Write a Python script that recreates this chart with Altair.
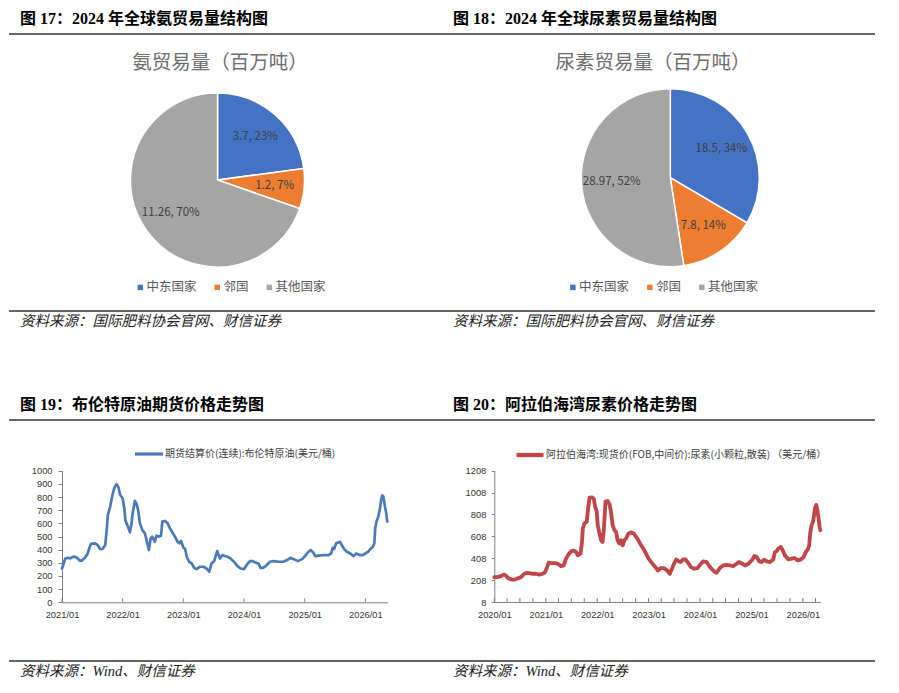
import altair as alt
import pandas as pd

# ---------------- data ----------------
pie_categories = ["中东国家", "邻国", "其他国家"]
pie_colors = ["#4472C4", "#ED7D31", "#A5A5A5"]
ammonia_values = [3.7, 1.2, 11.26]
ammonia_pct = [23, 7, 70]
urea_trade_values = [18.5, 7.8, 28.97]
urea_trade_pct = [34, 14, 52]

brent_name = "期货结算价(连续):布伦特原油(美元/桶)"
brent_dates = [
    "2021-01-01", "2021-01-21", "2021-02-06", "2021-02-20", "2021-03-10", "2021-03-30", "2021-04-19", "2021-04-29",
    "2021-05-19", "2021-06-05", "2021-06-15", "2021-06-25", "2021-07-19", "2021-08-04", "2021-08-18", "2021-09-02",
    "2021-09-18", "2021-09-28", "2021-10-04", "2021-10-18", "2021-11-01", "2021-11-13", "2021-11-25", "2021-12-07",
    "2021-12-17", "2022-01-01", "2022-01-11", "2022-01-17", "2022-02-02", "2022-02-14", "2022-02-24", "2022-03-02",
    "2022-03-16", "2022-03-28", "2022-04-05", "2022-04-15", "2022-04-29", "2022-05-15", "2022-05-27", "2022-06-08",
    "2022-06-18", "2022-06-28", "2022-07-14", "2022-07-24", "2022-08-08", "2022-08-20", "2022-08-28", "2022-09-13",
    "2022-09-29", "2022-10-13", "2022-10-27", "2022-11-12", "2022-11-28", "2022-12-08", "2022-12-18", "2023-01-02",
    "2023-01-12", "2023-01-22", "2023-02-05", "2023-02-21", "2023-03-08", "2023-03-22", "2023-04-11", "2023-05-01",
    "2023-05-21", "2023-06-06", "2023-06-20", "2023-07-06", "2023-07-24", "2023-08-10", "2023-08-24", "2023-09-09",
    "2023-09-26", "2023-10-12", "2023-11-02", "2023-11-22", "2023-12-12", "2024-01-01", "2024-01-17", "2024-02-06",
    "2024-02-20", "2024-03-10", "2024-03-30", "2024-04-09", "2024-04-25", "2024-05-13", "2024-06-05", "2024-06-29",
    "2024-07-28", "2024-08-24", "2024-09-17", "2024-10-07", "2024-10-27", "2024-11-20", "2024-12-16", "2025-01-05",
    "2025-01-19", "2025-02-05", "2025-02-21", "2025-03-05", "2025-03-25", "2025-04-24", "2025-05-24", "2025-06-09",
    "2025-06-19", "2025-06-27", "2025-07-09", "2025-07-23", "2025-08-02", "2025-08-12", "2025-08-26", "2025-09-12",
    "2025-10-02", "2025-10-22", "2025-11-07", "2025-11-27", "2025-12-17", "2026-01-01", "2026-01-17", "2026-01-31",
    "2026-02-16", "2026-02-24", "2026-03-01", "2026-03-10", "2026-03-20", "2026-03-30", "2026-04-05", "2026-04-13",
    "2026-04-19", "2026-04-29", "2026-05-05", "2026-05-13",
]
brent_values = [
    257, 333, 338, 333, 348, 341, 316, 316, 338, 371, 415, 445, 448, 435, 405, 405, 435, 562, 664, 728,
    817, 873, 898, 873, 817, 791, 715, 626, 575, 532, 600, 677, 771, 740, 695, 600, 550, 524, 460, 397,
    481, 499, 460, 506, 499, 506, 613, 618, 600, 562, 532, 499, 460, 448, 466, 415, 405, 346, 308, 295,
    262, 252, 270, 270, 257, 232, 295, 313, 389, 333, 359, 351,
    346, 333, 308, 277, 257, 252, 282, 313, 313, 303, 293, 262, 262, 277, 308, 313, 308, 308, 321, 338,
    328, 313, 328, 354, 379, 397, 379, 351, 354, 359, 359, 371, 415, 405, 448, 455, 460, 435, 405, 384,
    371, 351, 371, 359, 359, 371, 384, 405, 422, 448, 562, 618, 651, 715, 771, 812, 804, 728, 689, 613,
]

urea_name = "阿拉伯海湾:现货价(FOB,中间价):尿素(小颗粒,散装) （美元/桶）"
urea_dates = [
    "2020-01-01", "2020-01-24", "2020-02-17", "2020-03-11", "2020-03-23", "2020-04-09", "2020-05-02", "2020-05-26",
    "2020-06-19", "2020-07-08", "2020-08-01", "2020-08-20", "2020-09-06", "2020-09-30", "2020-10-23", "2020-11-16",
    "2020-12-10", "2020-12-27", "2021-01-10", "2021-01-20", "2021-02-08", "2021-03-02", "2021-03-26", "2021-04-19",
    "2021-05-08", "2021-05-24", "2021-06-10", "2021-06-29", "2021-07-18", "2021-08-04", "2021-08-16", "2021-09-04",
    "2021-09-14", "2021-09-21", "2021-10-02", "2021-10-19", "2021-10-26", "2021-11-07", "2021-11-24", "2021-12-08",
    "2021-12-17", "2021-12-29", "2022-01-05", "2022-01-17", "2022-01-29", "2022-02-08", "2022-02-15", "2022-02-22",
    "2022-03-01", "2022-03-16", "2022-03-30", "2022-04-09", "2022-04-21", "2022-05-03", "2022-05-15", "2022-05-26",
    "2022-06-08", "2022-06-19", "2022-07-01", "2022-07-13", "2022-07-25", "2022-08-11", "2022-08-30", "2022-09-18",
    "2022-10-04", "2022-10-21", "2022-11-09", "2022-11-28", "2022-12-14", "2023-01-01", "2023-01-20", "2023-02-08",
    "2023-02-24", "2023-03-09", "2023-03-27", "2023-04-20", "2023-05-14", "2023-06-01", "2023-06-16", "2023-07-01",
    "2023-07-17", "2023-08-03", "2023-08-17", "2023-09-03", "2023-09-20", "2023-10-09", "2023-10-28", "2023-11-21",
    "2023-12-15", "2024-01-01", "2024-01-24", "2024-02-17", "2024-03-04", "2024-03-23", "2024-04-11", "2024-04-28",
    "2024-05-21", "2024-06-14", "2024-07-08", "2024-08-01", "2024-08-24", "2024-09-18", "2024-10-04", "2024-10-28",
    "2024-11-16", "2024-12-10", "2025-01-03", "2025-01-22", "2025-02-08", "2025-02-25", "2025-03-14", "2025-04-02",
    "2025-04-19", "2025-05-12", "2025-06-05", "2025-06-17", "2025-06-29", "2025-07-11", "2025-07-29", "2025-08-11",
    "2025-08-27", "2025-09-21", "2025-10-14", "2025-11-02", "2025-11-26", "2025-12-20", "2026-01-06", "2026-01-22",
    "2026-02-06", "2026-02-15", "2026-02-22", "2026-03-04", "2026-03-16", "2026-03-28", "2026-04-07", "2026-04-14",
    "2026-04-21", "2026-04-30", "2026-05-05",
]
urea_values = [
    235, 235, 244, 259, 250, 226, 213, 213, 226, 235, 266, 275, 272, 266, 266, 259, 266, 281, 327, 367,
    364, 364, 358, 336, 342, 404, 440, 471, 477, 465, 434, 450, 542, 680, 726, 741, 833, 962, 965, 950,
    879, 833, 710, 634, 572, 557, 634, 772, 925, 931, 900, 833, 710, 664, 649, 572, 542, 572, 526, 572,
    588, 634, 643, 634, 603, 572, 526, 489, 450, 404, 373, 342, 318,
    296, 318, 318, 296, 266, 312, 358, 397, 379, 373, 397, 397, 367, 327, 312, 318, 348, 379, 373, 342,
    312, 287, 275, 318, 342, 348, 342, 336, 358, 373, 358, 342, 358, 388, 428, 419, 379, 373, 394, 379,
    373, 397, 465, 471, 496, 511, 480, 434, 397, 404, 410, 388, 397, 419, 465, 489, 526, 634, 710, 747,
    864, 894, 848, 787, 695, 664,
]

brent_label_years = [2021, 2022, 2023, 2024, 2025, 2026]
urea_label_years = [2020, 2021, 2022, 2023, 2024, 2025, 2026]
brent_y_ticks = [0, 100, 200, 300, 400, 500, 600, 700, 800, 900, 1000]
urea_y_ticks = [8, 208, 408, 608, 808, 1008, 1208]

titles = ["图 17：2024 年全球氨贸易量结构图", "图 18：2024 年全球尿素贸易量结构图",
          "图 19：布伦特原油期货价格走势图", "图 20：阿拉伯海湾尿素价格走势图"]
pie_titles = ["氨贸易量（百万吨）", "尿素贸易量（百万吨）"]
sources = ["资料来源：国际肥料协会官网、财信证券", "资料来源：Wind、财信证券"]

# ---------------- styling ----------------
W, H = 883, 677
SANS = "Noto Sans CJK SC"
AXF = "Liberation Sans"
TITLE_FONT = "Liberation Serif, Noto Sans CJK SC"
AXIS_GRAY = "#808080"
LBL = "#333333"


def dt(s):
    y, m, d = (int(p) for p in s.split("-"))
    return alt.DateTime(year=y, month=m, date=d, utc=True)


one = pd.DataFrame({"k": [0]})


def text_layer(txt, x, y, size, font, color, weight="normal", style="normal", align="left"):
    return alt.Chart(pd.DataFrame({"t": [txt]})).mark_text(
        align=align, baseline="middle", fontSize=size, font=font, color=color,
        fontWeight=weight, fontStyle=style,
    ).encode(text="t:N", x=alt.value(x), y=alt.value(y))


def rule_layer(y):
    return alt.Chart(one).mark_rule(color="#333333", strokeWidth=1.5).encode(
        x=alt.value(1), x2=alt.value(867), y=alt.value(y))


def pie_layers(values, pct, cx, cy, r, lx, ly):
    df = pd.DataFrame({
        "cat": pie_categories,
        "value": values,
        "order": list(range(len(values))),
        "label": [f"{v}, {p}%" for v, p in zip(values, pct)],
    })
    base = alt.Chart(df).encode(
        theta=alt.Theta("value:Q", stack=True),
        order=alt.Order("order:Q"),
    )
    arc = base.mark_arc(radius=r, stroke="white", strokeWidth=1.5).encode(
        color=alt.Color("cat:N", scale=alt.Scale(domain=pie_categories, range=pie_colors),
                        legend=alt.Legend(orient="none", legendX=lx, legendY=ly, direction="horizontal",
                                          title=None, symbolType="square", symbolSize=30,
                                          symbolStrokeWidth=0, labelFontSize=12.5, labelFont=SANS,
                                          labelColor="#595959", columnPadding=14, labelOffset=0,
                                          padding=0)),
        x=alt.value(cx), y=alt.value(cy),
    )
    txt = base.mark_text(radius=r * 0.66, fontSize=11.5, font=SANS, color="#404040").encode(
        text="label:N", x=alt.value(cx), y=alt.value(cy))
    return [arc, txt]


def line_layers(dates, values, name, color, width, x0, x1, yb, yt, ydom, yticks, label_years,
                tick_dates, lx, ly, ysize, ypad, legend_width):
    df = pd.DataFrame({"date": dates, "value": values, "series": name})
    xscale = alt.Scale(type="utc", domain=[dt(dates[0]), dt(dates[-1])], range=[x0, x1], nice=False)
    yscale = alt.Scale(domain=ydom, range=[yb, yt], zero=False, nice=False)
    line = alt.Chart(df).mark_line(strokeWidth=width, strokeJoin="round", strokeCap="round").encode(
        x=alt.X("date:T", scale=xscale,
                axis=alt.Axis(orient="bottom", offset=yb - H,
                              values=[alt.DateTime(year=y, month=1, date=1, utc=True) for y in label_years],
                              format="%Y/%m", labelFlush=False, labelOverlap=False, ticks=False, tickSize=0,
                              labelPadding=8, labelFontSize=9.3, labelFont=AXF, labelColor=LBL,
                              domainColor=AXIS_GRAY, domainWidth=1, grid=False, title=None)),
        y=alt.Y("value:Q", scale=yscale,
                axis=alt.Axis(orient="left", offset=-x0, values=yticks, format="d", tickSize=ysize,
                              tickColor=AXIS_GRAY, domainColor=AXIS_GRAY, domainWidth=1, labelPadding=ypad,
                              labelFontSize=9.3, labelFont=AXF, labelColor=LBL, grid=False, title=None)),
        color=alt.Color("series:N", scale=alt.Scale(domain=[name], range=[color]),
                        legend=alt.Legend(orient="none", legendX=lx, legendY=ly, title=None,
                                          symbolType="stroke", symbolSize=legend_width ** 2,
                                          symbolStrokeWidth=width + 0.5, labelFontSize=10, labelFont=SANS,
                                          labelColor="#404040", labelOffset=0, padding=0, labelLimit=400)),
    )
    ticks = alt.Chart(pd.DataFrame({"date": tick_dates})).mark_rule(color=AXIS_GRAY, strokeWidth=1).encode(
        x=alt.X("date:T", scale=xscale, axis=None),
        y=alt.value(yb - 4), y2=alt.value(yb),
    )
    return [ticks, line]


brent_tick_dates = [f"{y}-01-01" for y in brent_label_years]
urea_tick_dates = [f"{y}-{m:02d}-01" for y in urea_label_years for m in (1, 4, 7, 10)
                   if f"{y}-{m:02d}-01" <= urea_dates[-1]]

layers = []
for y in (26, 303, 412, 653):
    layers.append(rule_layer(y))
layers += [
    text_layer(titles[0], 12, 11, 16, TITLE_FONT, "#000000", weight="bold"),
    text_layer(titles[1], 445, 11, 16, TITLE_FONT, "#000000", weight="bold"),
    text_layer(titles[2], 12, 397, 16, TITLE_FONT, "#000000", weight="bold"),
    text_layer(titles[3], 445, 397, 16, TITLE_FONT, "#000000", weight="bold"),
    text_layer(sources[0], 12, 314, 14.5, TITLE_FONT, "#222222", style="italic"),
    text_layer(sources[0], 445, 314, 14.5, TITLE_FONT, "#222222", style="italic"),
    text_layer(sources[1], 12, 664, 14.5, TITLE_FONT, "#222222", style="italic"),
    text_layer(sources[1], 445, 664, 14.5, TITLE_FONT, "#222222", style="italic"),
    text_layer(pie_titles[0], 212, 55, 19.5, SANS, "#6e6e6e", align="center"),
    text_layer(pie_titles[1], 645, 55, 19.5, SANS, "#6e6e6e", align="center"),
]
layers += pie_layers(ammonia_values, ammonia_pct, 209.5, 172, 87, 126, 273)
layers += pie_layers(urea_trade_values, urea_trade_pct, 662.3, 169.7, 89, 558.6, 273)
layers += line_layers(brent_dates, brent_values, brent_name, "#4a7ab8", 2.7, 54, 379.3, 594.3, 462.7,
                      [0, 1000], brent_y_ticks, brent_label_years, brent_tick_dates, 125, 430, 4, 6, 28)
layers += line_layers(urea_dates, urea_values, urea_name, "#c0464a", 3.8, 486.3, 812.3, 594, 462.7,
                      [8, 1208], urea_y_ticks, urea_label_years, urea_tick_dates, 506, 431, 3, 5.5, 27)

chart = alt.layer(*layers).resolve_scale(
    x="independent", y="independent", theta="independent", color="independent"
).properties(
    width=W, height=H, padding=0, background="white",
    autosize=alt.AutoSizeParams(type="none"),
).configure_view(stroke=None)

chart.save("out.html", embed_options={"renderer": "svg", "actions": False})
